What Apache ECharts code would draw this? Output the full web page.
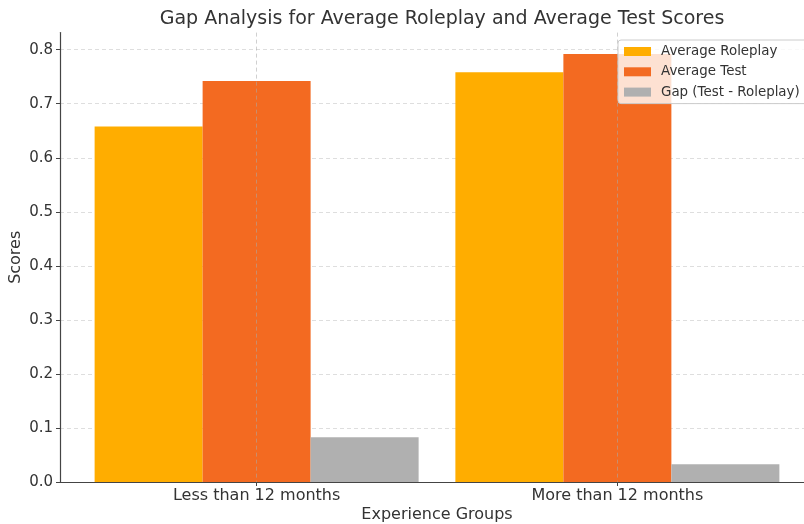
<!DOCTYPE html>
<html>
<head>
<meta charset="utf-8">
<script src="https://cdn.jsdelivr.net/npm/echarts@6/dist/echarts.min.js"></script>
<style>
html,body{margin:0;padding:0;background:#fff;}
#chart{width:804px;height:524px;}
</style>
</head>
<body>
<div id="chart"></div>
<script>
const categories = ['Less than 12 months', 'More than 12 months'];
const avgRoleplay = [0.658, 0.758];
const avgTest = [0.742, 0.792];
const gap = [0.083, 0.033];
const yTicks = [0, 0.1, 0.2, 0.3, 0.4, 0.5, 0.6, 0.7, 0.8];
const seriesNames = ['Average Roleplay', 'Average Test', 'Gap (Test - Roleplay)'];

const FONT = 'DejaVu Sans';
const catIdx = categories.map((c, i) => i);
const toPts = arr => arr.map((v, i) => [i, v]);

const chart = echarts.init(document.getElementById('chart'), null, {renderer: 'canvas'});
const barStyle = (color) => ({
  type: 'bar',
  barWidth: 108,
  barGap: '0%',
  z: 2,
  itemStyle: {color: color},
  emphasis: {disabled: true},
  animation: false
});

chart.setOption({
  animation: false,
  backgroundColor: '#ffffff',
  textStyle: {fontFamily: FONT},
  title: {
    text: 'Gap Analysis for Average Roleplay and Average Test Scores',
    left: 437,
    textAlign: 'center',
    top: 5,
    textStyle: {fontFamily: FONT, fontSize: 19, fontWeight: 'normal', color: '#333'}
  },
  legend: {
    orient: 'vertical',
    left: 618,
    top: 40,
    z: 10,
    padding: [4, 8, 4, 6],
    itemWidth: 27,
    itemHeight: 9,
    itemGap: 5.3,
    itemStyle: {borderWidth: 0},
    backgroundColor: 'rgba(255,255,255,0.8)',
    borderColor: '#cccccc',
    borderWidth: 1,
    borderRadius: 3,
    textStyle: {fontFamily: FONT, fontSize: 13.4, color: '#333', padding: [0, 0, 0, 5], lineHeight: 15},
    data: seriesNames.map(n => ({name: n, icon: 'rect'}))
  },
  grid: {left: 60, top: 32.6, width: 754, height: 449.4, containLabel: false, outerBoundsMode: 'none'},
  xAxis: {
    type: 'value',
    min: -0.545,
    max: 1.545,
    z: 5,
    name: 'Experience Groups',
    nameLocation: 'middle',
    nameGap: 25,
    nameMoveOverlap: false,
    nameTextStyle: {fontFamily: FONT, fontSize: 16, color: '#333', verticalAlign: 'top'},
    axisLine: {show: true, onZero: false, lineStyle: {color: '#444', width: 1.2}},
    axisTick: {show: true, inside: false, length: 4, customValues: catIdx, lineStyle: {color: '#444', width: 1}},
    axisLabel: {
      customValues: catIdx,
      margin: 6,
      fontFamily: FONT,
      fontSize: 16,
      color: '#333',
      formatter: v => categories[Math.round(v)] || ''
    },
    splitLine: {show: true, lineStyle: {color: 'rgba(170,170,170,0.55)', type: [4, 3], width: 1}}
  },
  yAxis: {
    type: 'value',
    min: 0,
    max: 0.8316,
    name: 'Scores',
    nameLocation: 'middle',
    nameGap: 36,
    nameMoveOverlap: false,
    nameTextStyle: {fontFamily: FONT, fontSize: 16, color: '#333'},
    axisLine: {show: true, onZero: false, lineStyle: {color: '#444', width: 1.2}},
    axisTick: {show: true, inside: false, length: 4, customValues: yTicks, lineStyle: {color: '#444', width: 1}},
    axisLabel: {
      customValues: yTicks,
      margin: 7,
      fontFamily: FONT,
      fontSize: 15,
      color: '#333',
      formatter: v => v.toFixed(1)
    },
    splitLine: {show: true, lineStyle: {color: 'rgba(200,200,200,0.6)', type: [4, 3], width: 1}}
  },
  series: [
    Object.assign(barStyle('#FFAD00'), {name: seriesNames[0], data: toPts(avgRoleplay)}),
    Object.assign(barStyle('#F36A21'), {name: seriesNames[1], data: toPts(avgTest)}),
    Object.assign(barStyle('#B0B0B0'), {name: seriesNames[2], data: toPts(gap)})
  ]
});
</script>
</body>
</html>
